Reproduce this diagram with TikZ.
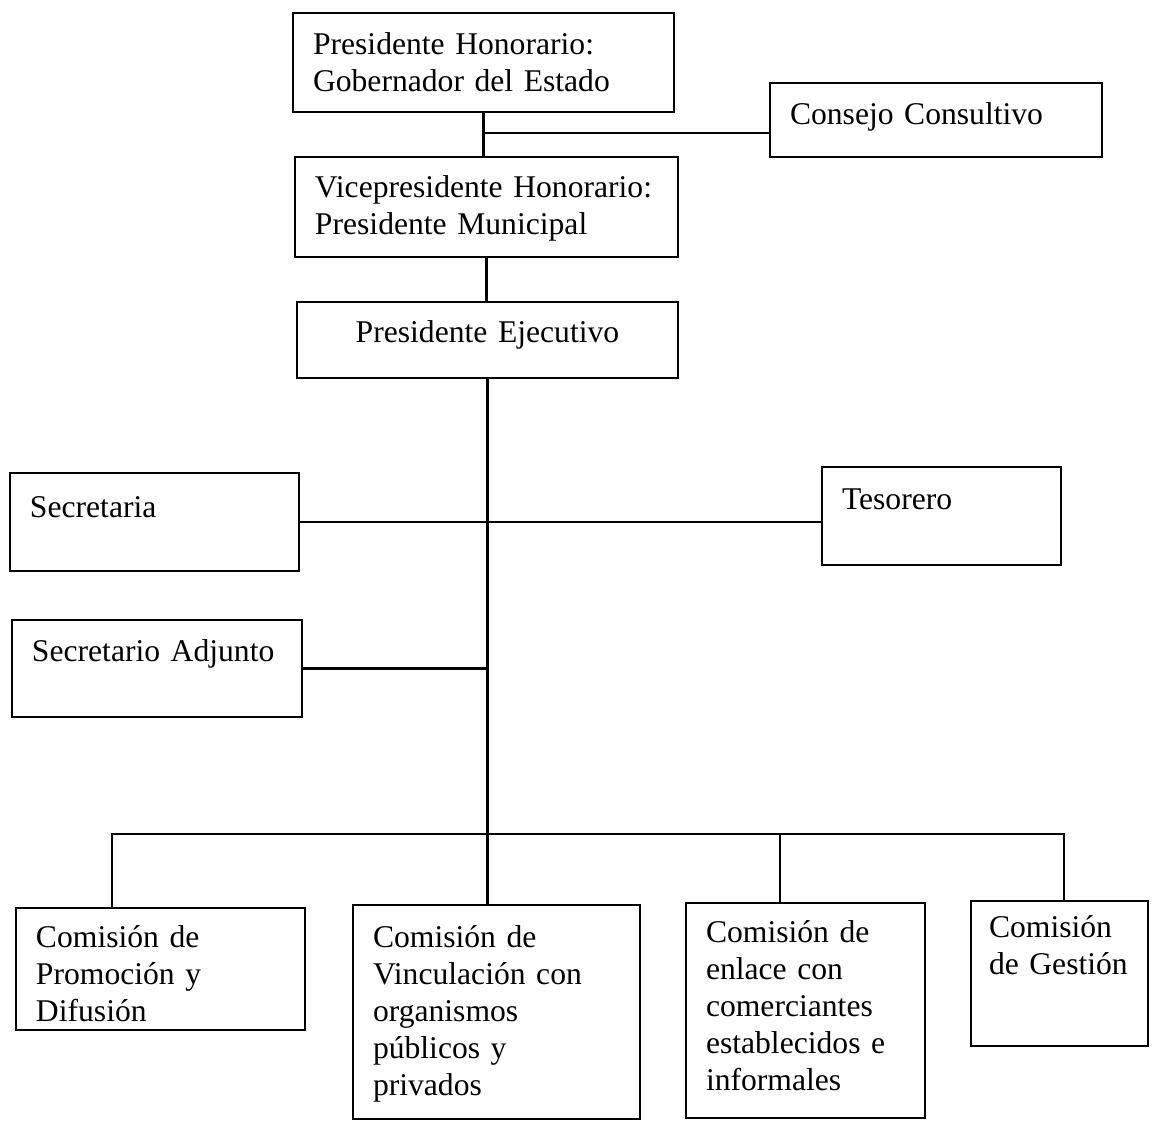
\documentclass[tikz,border=0pt]{standalone}
\usepackage{fontspec}
\setmainfont{Liberation Serif}

\tikzstyle{orgBox} = [rectangle, draw=black, line width=1.5pt, anchor=north west, inner xsep=0.4cm, inner ysep=0pt, outer sep=0pt, align=left, font=\fontsize{18}{21}\selectfont]
\tikzstyle{orgLine} = [draw=black, line width=1.6pt]

\begin{document}
\begin{tikzpicture}[x=0.02cm, y=-0.02cm]
    \useasboundingbox (0,0) rectangle (1156,1121);

    % upper chain
    \node (hon)[orgBox, text width=6.82cm, text height=0.84cm, text depth=1.14cm] at (293,13) {Presidente Honorario:\\ Gobernador del Estado};
    \node (cons)[orgBox, text width=5.84cm, text height=0.84cm, text depth=0.64cm] at (770,83) {Consejo Consultivo};
    \node (vice)[orgBox, text width=6.86cm, text height=0.82cm, text depth=1.18cm] at (295,157) {Vicepresidente Honorario:\\ Presidente Municipal};
    \node (ejec)[orgBox, align=center, text width=6.82cm, text height=0.82cm, text depth=0.70cm] at (297,302) {Presidente Ejecutivo};

    % staff
    \node (sec)[orgBox, text width=4.98cm, text height=0.90cm, text depth=1.06cm] at (10,473) {Secretaria};
    \node (tes)[orgBox, text width=3.98cm, text height=0.86cm, text depth=1.10cm] at (822,467) {Tesorero};
    \node (adj)[orgBox, text width=5.00cm, text height=0.84cm, text depth=1.10cm] at (12,620) {Secretario Adjunto};

    % comisiones
    \node (com1)[orgBox, text width=4.98cm, text height=0.80cm, text depth=1.64cm] at (16,908) {Comisión de\\ Promoción y\\ Difusión};
    \node (com2)[orgBox, text width=4.94cm, text height=0.86cm, text depth=3.42cm] at (353,905) {Comisión de\\ Vinculación con\\ organismos\\ públicos y\\ privados};
    \node (com3)[orgBox, text width=3.98cm, text height=0.80cm, text depth=3.50cm] at (686,903) {Comisión de\\ enlace con\\ comerciantes\\ establecidos e\\ informales};
    \node (com4)[orgBox, inner xsep=0.36cm, text width=2.82cm, text height=0.74cm, text depth=2.16cm] at (971,901) {Comisión\\ de Gestión};

    \coordinate (consJoin) at (hon.south |- 0,133);
    \coordinate (busL) at (112,834);
    \coordinate (busC) at (780,834);
    \coordinate (busR) at (1064,834);

    \draw [orgLine] (hon.south) -- (hon.south |- vice.north);
    \draw [orgLine] (consJoin) -- (consJoin -| cons.west);
    \draw [orgLine] (vice.south) -- (vice.south |- ejec.north);
    \draw [orgLine] (ejec.south) -- (ejec.south |- com2.north);
    \draw [orgLine] (sec.east) -- (sec.east -| tes.west);
    \draw [orgLine] (adj.east) -- (adj.east -| ejec.south);
    \draw [orgLine] (busL |- com1.north) -- (busL) -- (busR) -- (busR |- com4.north);
    \draw [orgLine] (busC) -- (busC |- com3.north);
\end{tikzpicture}
\end{document}
